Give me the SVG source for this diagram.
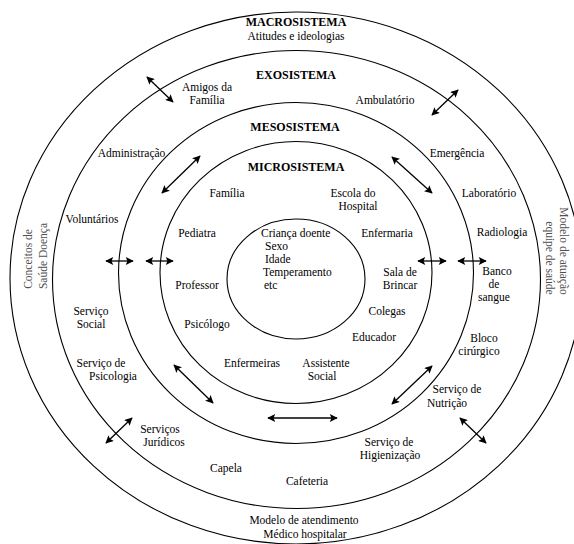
<svg xmlns="http://www.w3.org/2000/svg" width="574" height="544" viewBox="0 0 574 544">
<defs>
<marker id="ah" viewBox="0 0 10 10" refX="9" refY="5" markerWidth="9" markerHeight="8" markerUnits="userSpaceOnUse" orient="auto-start-reverse">
<path d="M0,0 L10,5 L0,10 L2,5 z" fill="#000"/>
</marker>
</defs>
<rect width="574" height="544" fill="#fff"/>
<g id="rings" fill="none" stroke="#000" stroke-width="1.1">
<ellipse id="macro-ring" cx="296" cy="278" rx="286" ry="266"/>
<ellipse id="exo-ring" cx="296.5" cy="279.5" rx="244" ry="229"/>
<ellipse id="meso-ring" cx="296" cy="273" rx="177.5" ry="170.5"/>
<ellipse id="micro-ring" cx="296" cy="272.5" rx="136" ry="131"/>
<ellipse id="center-ring" cx="296" cy="279" rx="69" ry="60"/>
</g>
<g id="connectors" stroke="#000" stroke-width="1.3" fill="none" marker-start="url(#ah)" marker-end="url(#ah)">
<line x1="147" y1="77" x2="173" y2="102"/>
<line x1="200" y1="156" x2="162" y2="193"/>
<line x1="458" y1="90" x2="432" y2="115"/>
<line x1="392" y1="157" x2="432" y2="193"/>
<line x1="106" y1="261" x2="133" y2="261"/>
<line x1="146" y1="261" x2="173" y2="261"/>
<line x1="418" y1="261" x2="446" y2="261"/>
<line x1="458" y1="261" x2="486" y2="261"/>
<line x1="132" y1="418" x2="106" y2="443"/>
<line x1="174" y1="365" x2="213" y2="403"/>
<line x1="268" y1="418" x2="337" y2="418"/>
<line x1="432" y1="366" x2="392" y2="404"/>
<line x1="460" y1="418" x2="486" y2="443"/>
</g>
<g id="labels" font-family="'Liberation Serif', serif" font-size="11.5" fill="#000" text-anchor="middle">
<g id="titles" font-weight="bold" font-size="12">
<g id="macrosistema"><text x="296" y="26">MACROSISTEMA</text></g>
<g id="exosistema"><text x="296" y="79">EXOSISTEMA</text></g>
<g id="mesosistema"><text x="295" y="131">MESOSISTEMA</text></g>
<g id="microsistema"><text x="296" y="171">MICROSISTEMA</text></g>
</g>
<g id="atitudes"><text x="296" y="39.5">Atitudes e ideologias</text></g>
<g id="crianca" text-anchor="start">
<text x="261" y="237">Criança doente</text>
<text x="265" y="250">Sexo</text>
<text x="265" y="263">Idade</text>
<text x="263" y="276">Temperamento</text>
<text x="264" y="289">etc</text>
</g>
<g id="familia"><text x="227" y="197">Família</text></g>
<g id="escola"><text x="353" y="197">Escola  do</text><text x="358" y="210">Hospital</text></g>
<g id="pediatra"><text x="197" y="237">Pediatra</text></g>
<g id="enfermaria"><text x="387" y="237">Enfermaria</text></g>
<g id="professor"><text x="197" y="289">Professor</text></g>
<g id="sala"><text x="400" y="276">Sala de</text><text x="400" y="289">Brincar</text></g>
<g id="psicologo"><text x="207" y="328">Psicólogo</text></g>
<g id="colegas"><text x="387" y="315">Colegas</text></g>
<g id="educador"><text x="374" y="341">Educador</text></g>
<g id="enfermeiras"><text x="252" y="367">Enfermeiras</text></g>
<g id="assistente"><text x="326" y="367">Assistente</text><text x="322" y="380">Social</text></g>
<g id="amigos"><text x="207" y="91">Amigos da</text><text x="207" y="104">Família</text></g>
<g id="ambulatorio"><text x="385" y="104">Ambulatório</text></g>
<g id="administracao"><text x="131.5" y="157">Administração</text></g>
<g id="emergencia"><text x="457" y="157">Emergência</text></g>
<g id="voluntarios"><text x="92" y="223">Voluntários</text></g>
<g id="laboratorio"><text x="489" y="197">Laboratório</text></g>
<g id="radiologia"><text x="502" y="236">Radiologia</text></g>
<g id="banco"><text x="497" y="275">Banco</text><text x="494" y="288">de</text><text x="494" y="301">sangue</text></g>
<g id="servico-social"><text x="91" y="315">Serviço</text><text x="91" y="328">Social</text></g>
<g id="bloco"><text x="484" y="342">Bloco</text><text x="479" y="355">cirúrgico</text></g>
<g id="servico-psicologia"><text x="101" y="367">Serviço de</text><text x="113" y="380">Psicologia</text></g>
<g id="servico-nutricao"><text x="457" y="393">Serviço de</text><text x="447" y="407">Nutrição</text></g>
<g id="servicos-juridicos"><text x="160" y="433">Serviços</text><text x="164" y="446">Jurídicos</text></g>
<g id="servico-higienizacao"><text x="389" y="446">Serviço de</text><text x="390" y="459">Higienização</text></g>
<g id="capela"><text x="226" y="472">Capela</text></g>
<g id="cafeteria"><text x="307" y="485">Cafeteria</text></g>
<g id="conceitos" fill="#505050"><text transform="translate(32,259) rotate(-90)">Conceitos de</text><text transform="translate(47,256) rotate(-90)">Saúde Doença</text></g>
<g id="modelo-atuacao" fill="#505050"><text transform="translate(560,251) rotate(90)">Modelo de atuação</text><text transform="translate(546,258) rotate(90)">equipe de saúde</text></g>
<g id="modelo-atendimento"><text x="304" y="524">Modelo de atendimento</text><text x="305" y="537.5">Médico hospitalar</text></g>
</g>
</svg>
